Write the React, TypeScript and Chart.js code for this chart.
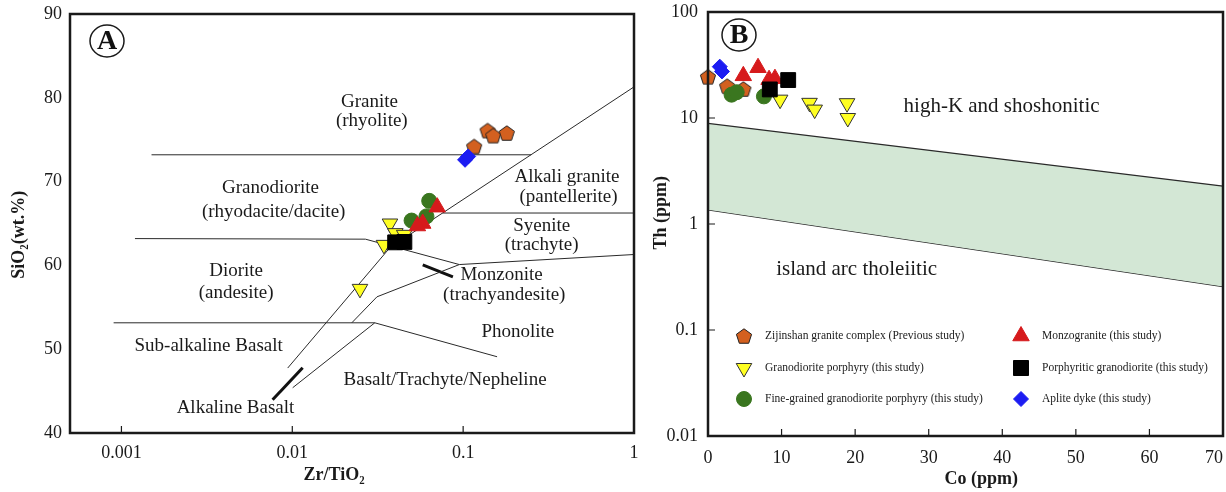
import React, { useEffect, useRef } from 'react';
import { Chart, registerables } from 'chart.js';

Chart.register(...registerables);

const SERIF = '"Liberation Serif", "Times New Roman", Times, serif';

// ---------------- Panel A : SiO2 vs Zr/TiO2 ----------------
const zrTiTicks = [0.001, 0.01, 0.1, 1];
const zrTiTickLabels = ['0.001', '0.01', '0.1', '1'];
const sio2Ticks = [40, 50, 60, 70, 80, 90];

const zijinshanZrTi = [0.139, 0.15, 0.18, 0.116];
const zijinshanSiO2 = [76.1, 75.5, 75.8, 74.2];
const granodioriteZrTi = [0.0373, 0.0401, 0.0452, 0.0344, 0.0249];
const granodioriteSiO2 = [65.0, 63.85, 63.65, 62.45, 57.2];
const fineGrainedZrTi = [0.0633, 0.061, 0.0499];
const fineGrainedSiO2 = [67.7, 65.85, 65.35];
const monzograniteZrTi = [0.0705, 0.058, 0.054];
const monzograniteSiO2 = [66.95, 65.0, 64.7];
const porphyriticZrTi = [0.04, 0.0453];
const porphyriticSiO2 = [62.75, 62.8];
const apliteZrTi = [0.1026, 0.107];
const apliteSiO2 = [72.6, 73.0];

// field boundaries of the Winchester & Floyd diagram: [Zr/TiO2, SiO2] vertices
const boundaryLinesA: number[][][] = [
  [[0.0015, 73.2], [0.25, 73.2]],
  [[0.0094, 47.75], [0.0372, 62.1], [1, 81.3]],
  [[0.0012, 63.2], [0.0268, 63.13], [0.095, 60.1]],
  [[0.095, 60.1], [1, 61.3]],
  [[0.0758, 66.25], [1, 66.25]],
  [[0.0223, 53.15], [0.0313, 56.25], [0.095, 60.1]],
  [[0.0009, 53.15], [0.0304, 53.15], [0.158, 49.1]],
  [[0.0304, 53.15], [0.01005, 45.4]],
];
const thickLinesA: number[][][] = [
  [[0.00767, 43.97], [0.0115, 47.79]],
  [[0.058, 60.07], [0.0871, 58.64]],
];

const fieldLabelsA = [
  { text: 'Granite', x: 0.0283, y: 79.5 },
  { text: '(rhyolite)', x: 0.0292, y: 77.25 },
  { text: 'Granodiorite', x: 0.00745, y: 69.2 },
  { text: '(rhyodacite/dacite)', x: 0.00778, y: 66.4 },
  { text: 'Alkali granite', x: 0.405, y: 70.6 },
  { text: '(pantellerite)', x: 0.414, y: 68.15 },
  { text: 'Syenite', x: 0.288, y: 64.65 },
  { text: '(trachyte)', x: 0.288, y: 62.4 },
  { text: 'Diorite', x: 0.00469, y: 59.3 },
  { text: '(andesite)', x: 0.00469, y: 56.7 },
  { text: 'Monzonite', x: 0.168, y: 58.9 },
  { text: '(trachyandesite)', x: 0.174, y: 56.5 },
  { text: 'Phonolite', x: 0.209, y: 52.1 },
  { text: 'Sub-alkaline Basalt', x: 0.00324, y: 50.35 },
  { text: 'Basalt/Trachyte/Nepheline', x: 0.0784, y: 46.3 },
  { text: 'Alkaline Basalt', x: 0.00465, y: 43.0 },
];

// ---------------- Panel B : Th vs Co ----------------
const coTicks = [0, 10, 20, 30, 40, 50, 60, 70];
const coTickLabels = ['0', '10', '20', '30', '40', '50', '60', '70    '];
const thTicks = [0.01, 0.1, 1, 10, 100];
const thTickLabels = ['0.01', '0.1', '1', '10', '100'];

const zijinshanCo = [0, 2.6, 4.8];
const zijinshanTh = [24.5, 20.0, 18.8];
const granodioriteCo = [9.8, 13.8, 14.5, 18.9, 19.0];
const granodioriteTh = [14.9, 13.9, 12.0, 13.8, 10.0];
const fineGrainedCo = [3.2, 3.9, 7.6];
const fineGrainedTh = [16.6, 17.5, 16.0];
const monzograniteCo = [4.8, 6.8, 8.3, 9.1];
const monzograniteTh = [25.0, 29.8, 23.0, 23.5];
const porphyriticCo = [8.4, 10.9];
const porphyriticTh = [18.6, 22.8];
const apliteCo = [1.6, 1.9];
const apliteTh = [30.5, 27.5];

const calcAlkalineCo = [0, 70];
const calcAlkalineUpperTh = [8.9, 2.28];
const calcAlkalineLowerTh = [1.36, 0.257];

const fieldLabelsB = [
  { text: 'high-K and shoshonitic', x: 39.9, y: 12.8 },
  { text: 'calc-alkaline', x: 28.6, y: 2.25 },
  { text: 'island arc tholeiitic', x: 20.2, y: 0.374 },
];

const legendLabels = [
  'Zijinshan granite complex (Previous study)',
  'Granodiorite porphyry (this study)',
  'Fine-grained granodiorite porphyry (this study)',
  'Monzogranite (this study)',
  'Porphyritic granodiorite (this study)',
  'Aplite dyke (this study)',
];

// ---------------- styles ----------------
const ORANGE = '#d3601f';
const YELLOW = '#ffff22';
const GREEN = '#3a761f';
const RED = '#d61a1c';
const BLACK = '#000000';
const BLUE = '#1c1cf2';

function makePentagon(r: number, fill: string, stroke: string) {
  const s = Math.ceil(2 * r + 4);
  const c = document.createElement('canvas');
  c.width = s;
  c.height = s;
  const g = c.getContext('2d')!;
  g.beginPath();
  for (let i = 0; i < 5; i++) {
    const a = -Math.PI / 2 + (i * 2 * Math.PI) / 5;
    const px = s / 2 + r * Math.cos(a);
    const py = s / 2 + r * Math.sin(a) + r * 0.1;
    if (i === 0) g.moveTo(px, py);
    else g.lineTo(px, py);
  }
  g.closePath();
  g.fillStyle = fill;
  g.fill();
  g.lineWidth = 1;
  g.strokeStyle = stroke;
  g.stroke();
  return c;
}

function pts(xs: number[], ys: number[]) {
  return xs.map((x, i) => ({ x, y: ys[i] }));
}

function markerDatasets(pent: HTMLCanvasElement, sets: { xs: number[]; ys: number[] }[]) {
  const [zij, gra, fine, mon, por, apl] = sets;
  return [
    { type: 'scatter', label: legendLabels[4], data: pts(por.xs, por.ys), pointStyle: 'rect', pointRadius: 10.5, backgroundColor: BLACK, borderColor: BLACK, borderWidth: 1, clip: false },
    { type: 'scatter', label: legendLabels[3], data: pts(mon.xs, mon.ys), pointStyle: 'triangle', pointRadius: 9.5, backgroundColor: RED, borderColor: RED, borderWidth: 1, clip: false },
    { type: 'scatter', label: legendLabels[2], data: pts(fine.xs, fine.ys), pointStyle: 'circle', pointRadius: 7.5, backgroundColor: GREEN, borderColor: GREEN, borderWidth: 1, clip: false },
    { type: 'scatter', label: legendLabels[1], data: pts(gra.xs, gra.ys), pointStyle: 'triangle', pointRotation: 180, pointRadius: 9, backgroundColor: YELLOW, borderColor: '#333', borderWidth: 1, clip: false },
    { type: 'scatter', label: legendLabels[5], data: pts(apl.xs, apl.ys), pointStyle: 'rectRot', pointRadius: 7.5, backgroundColor: BLUE, borderColor: BLUE, borderWidth: 1, clip: false },
    { type: 'scatter', label: legendLabels[0], data: pts(zij.xs, zij.ys), pointStyle: pent, pointRadius: 8, backgroundColor: ORANGE, borderColor: '#222', borderWidth: 1, clip: false },
  ];
}

function drawMarker(ctx: CanvasRenderingContext2D, kind: number, x: number, y: number, pent: HTMLCanvasElement) {
  ctx.save();
  ctx.lineWidth = 1;
  ctx.beginPath();
  if (kind === 0) {
    ctx.drawImage(pent, x - pent.width / 2, y - pent.height / 2);
    ctx.restore();
    return;
  }
  if (kind === 1) {
    const r = 9;
    ctx.moveTo(x, y + r);
    ctx.lineTo(x - r * 0.866, y - r / 2);
    ctx.lineTo(x + r * 0.866, y - r / 2);
    ctx.closePath();
    ctx.fillStyle = YELLOW;
    ctx.strokeStyle = '#333';
  } else if (kind === 2) {
    ctx.arc(x, y, 7.5, 0, Math.PI * 2);
    ctx.fillStyle = GREEN;
    ctx.strokeStyle = GREEN;
  } else if (kind === 3) {
    const r = 9.5;
    ctx.moveTo(x, y - r);
    ctx.lineTo(x - r * 0.866, y + r / 2);
    ctx.lineTo(x + r * 0.866, y + r / 2);
    ctx.closePath();
    ctx.fillStyle = RED;
    ctx.strokeStyle = RED;
  } else if (kind === 4) {
    ctx.rect(x - 7.5, y - 7.5, 15, 15);
    ctx.fillStyle = BLACK;
    ctx.strokeStyle = BLACK;
  } else {
    const r = 7.5;
    ctx.moveTo(x, y - r);
    ctx.lineTo(x + r, y);
    ctx.lineTo(x, y + r);
    ctx.lineTo(x - r, y);
    ctx.closePath();
    ctx.fillStyle = BLUE;
    ctx.strokeStyle = BLUE;
  }
  ctx.fill();
  ctx.stroke();
  ctx.restore();
}

function drawFrameAndLetter(chart: any, letter: string, dx: number, dy: number) {
  const { ctx, chartArea: a } = chart;
  ctx.save();
  ctx.strokeStyle = '#1a1a1a';
  ctx.lineWidth = 2.5;
  ctx.strokeRect(a.left, a.top, a.right - a.left, a.bottom - a.top);
  const cx = a.left + dx;
  const cy = a.top + dy;
  ctx.lineWidth = 1.5;
  ctx.beginPath();
  ctx.ellipse(cx, cy, 17, 16, 0, 0, Math.PI * 2);
  ctx.stroke();
  ctx.fillStyle = '#111';
  ctx.font = `bold 28px ${SERIF}`;
  ctx.textAlign = 'center';
  ctx.textBaseline = 'middle';
  ctx.fillText(letter, cx, cy + 1);
  ctx.restore();
}

function drawInnerTicks(chart: any, xs: number[], ys: number[], len: number) {
  const { ctx, chartArea: a, scales } = chart;
  ctx.save();
  ctx.strokeStyle = '#1a1a1a';
  ctx.lineWidth = 1.2;
  ctx.beginPath();
  xs.forEach((v) => {
    const px = scales.x.getPixelForValue(v);
    ctx.moveTo(px, a.bottom);
    ctx.lineTo(px, a.bottom - len);
  });
  ys.forEach((v) => {
    const py = scales.y.getPixelForValue(v);
    ctx.moveTo(a.left, py);
    ctx.lineTo(a.left + len, py);
  });
  ctx.stroke();
  ctx.restore();
}

function drawFieldLabels(chart: any, labels: { text: string; x: number; y: number }[], font: string) {
  const { ctx, scales } = chart;
  ctx.save();
  ctx.fillStyle = '#1a1a1a';
  ctx.font = font;
  ctx.textAlign = 'center';
  ctx.textBaseline = 'middle';
  labels.forEach((l) => ctx.fillText(l.text, scales.x.getPixelForValue(l.x), scales.y.getPixelForValue(l.y)));
  ctx.restore();
}

function fixAxis(size: number, horizontal: boolean) {
  return (s: any) => {
    if (horizontal) s.height = size;
    else s.width = size;
    s.paddingLeft = 0;
    s.paddingRight = 0;
    s.paddingTop = 0;
    s.paddingBottom = 0;
  };
}

function labelFor(ticks: number[], labels: string[]) {
  return (v: number) => {
    const i = ticks.findIndex((t) => (t === 0 ? Math.abs(v) < 1e-9 : Math.abs(t - v) / t < 1e-6));
    return i >= 0 ? labels[i] : '';
  };
}

const tickFont = { family: SERIF, size: 18 };
const titleFont = { family: SERIF, size: 18, weight: 'bold' as const };

function configA(pent: HTMLCanvasElement): any {
  const lineDs = boundaryLinesA.map((seg) => ({
    type: 'line',
    data: seg.map(([x, y]) => ({ x, y })),
    borderColor: '#2a2a2a',
    borderWidth: 1,
    pointRadius: 0,
    fill: false,
    showLine: true,
  }));
  const thickDs = thickLinesA.map((seg) => ({
    type: 'line',
    data: seg.map(([x, y]) => ({ x, y })),
    borderColor: '#111',
    borderWidth: 3,
    pointRadius: 0,
    fill: false,
    showLine: true,
  }));
  return {
    type: 'scatter',
    data: {
      datasets: [
        ...markerDatasets(pent, [
          { xs: zijinshanZrTi, ys: zijinshanSiO2 },
          { xs: granodioriteZrTi, ys: granodioriteSiO2 },
          { xs: fineGrainedZrTi, ys: fineGrainedSiO2 },
          { xs: monzograniteZrTi, ys: monzograniteSiO2 },
          { xs: porphyriticZrTi, ys: porphyriticSiO2 },
          { xs: apliteZrTi, ys: apliteSiO2 },
        ]),
        ...lineDs,
        ...thickDs,
      ],
    },
    options: {
      animation: false,
      responsive: false,
      layout: { autoPadding: false, padding: { left: 0, top: 14, right: 6, bottom: 0 } },
      plugins: { legend: { display: false }, tooltip: { enabled: false } },
      scales: {
        x: {
          type: 'logarithmic',
          min: 0.0005,
          max: 1,
          grid: { display: false, drawTicks: false },
          border: { display: false },
          afterBuildTicks: (s: any) => {
            s.ticks = zrTiTicks.map((v) => ({ value: v }));
          },
          afterFit: fixAxis(59, true),
          ticks: {
            autoSkip: false,
            maxRotation: 0,
            padding: 9,
            color: '#1a1a1a',
            font: tickFont,
            callback: labelFor(zrTiTicks, zrTiTickLabels),
          },
          title: { display: true, text: 'Zr/TiO\u2082        ', color: '#1a1a1a', font: titleFont, padding: { top: 0, bottom: 6 } },
        },
        y: {
          type: 'linear',
          min: 40,
          max: 90,
          grid: { display: false, drawTicks: false },
          border: { display: false },
          afterBuildTicks: (s: any) => {
            s.ticks = sio2Ticks.map((v) => ({ value: v }));
          },
          afterFit: fixAxis(70, false),
          ticks: { padding: 8, color: '#1a1a1a', font: tickFont },
          title: { display: true, text: 'SiO\u2082(wt.%)     ', color: '#1a1a1a', font: titleFont, padding: { top: 9, bottom: 0 } },
        },
      },
    },
    plugins: [
      {
        id: 'panelA',
        beforeDatasetsDraw(chart: any) {
          drawFieldLabels(chart, fieldLabelsA, `19px ${SERIF}`);
        },
        afterDraw(chart: any) {
          drawInnerTicks(chart, [0.001, 0.01, 0.1], [], 7);
          drawFrameAndLetter(chart, 'A', 37, 27);
        },
      },
    ],
  };
}

function configB(pent: HTMLCanvasElement): any {
  return {
    type: 'scatter',
    data: {
      datasets: [
        ...markerDatasets(pent, [
          { xs: zijinshanCo, ys: zijinshanTh },
          { xs: granodioriteCo, ys: granodioriteTh },
          { xs: fineGrainedCo, ys: fineGrainedTh },
          { xs: monzograniteCo, ys: monzograniteTh },
          { xs: porphyriticCo, ys: porphyriticTh },
          { xs: apliteCo, ys: apliteTh },
        ]),
        {
          type: 'line',
          data: pts(calcAlkalineCo, calcAlkalineUpperTh),
          borderColor: '#2a2a2a',
          borderWidth: 1.2,
          pointRadius: 0,
          showLine: true,
          fill: '+1',
          backgroundColor: '#d3e7d5',
        },
        {
          type: 'line',
          data: pts(calcAlkalineCo, calcAlkalineLowerTh),
          borderColor: '#2a2a2a',
          borderWidth: 1.2,
          pointRadius: 0,
          showLine: true,
          fill: false,
        },
      ],
    },
    options: {
      animation: false,
      responsive: false,
      layout: { autoPadding: false, padding: { left: 0, top: 12, right: 3, bottom: 0 } },
      plugins: { legend: { display: false }, tooltip: { enabled: false } },
      scales: {
        x: {
          type: 'linear',
          min: 0,
          max: 70,
          grid: { display: false, drawTicks: false },
          border: { display: false },
          afterBuildTicks: (s: any) => {
            s.ticks = coTicks.map((v) => ({ value: v }));
          },
          afterFit: fixAxis(56, true),
          ticks: {
            autoSkip: false,
            maxRotation: 0,
            padding: 11,
            color: '#1a1a1a',
            font: tickFont,
            callback: labelFor(coTicks, coTickLabels),
          },
          title: { display: true, text: '       Co (ppm)', color: '#1a1a1a', font: titleFont, padding: { top: 0, bottom: 2 } },
        },
        y: {
          type: 'logarithmic',
          min: 0.01,
          max: 100,
          grid: { display: false, drawTicks: false },
          border: { display: false },
          afterBuildTicks: (s: any) => {
            s.ticks = thTicks.map((v) => ({ value: v }));
          },
          afterFit: fixAxis(68, false),
          ticks: {
            padding: 10,
            color: '#1a1a1a',
            font: tickFont,
            callback: labelFor(thTicks, thTickLabels),
          },
          title: { display: true, text: '     Th (ppm)', color: '#1a1a1a', font: titleFont, padding: { top: 11, bottom: 0 } },
        },
      },
    },
    plugins: [
      {
        id: 'panelB',
        beforeDatasetsDraw(chart: any) {
          drawFieldLabels(chart, fieldLabelsB, `21px ${SERIF}`);
        },
        afterDraw(chart: any) {
          const { ctx, chartArea: a } = chart;
          drawInnerTicks(chart, [10, 20, 30, 40, 50, 60], [0.1, 1, 10], 7);
          drawFrameAndLetter(chart, 'B', 31, 23);
          // legend
          const cols = [
            { mx: a.left + 36, tx: a.left + 57, kinds: [0, 1, 2] },
            { mx: a.left + 313, tx: a.left + 334, kinds: [3, 4, 5] },
          ];
          const rows = [a.top + 324, a.top + 356, a.top + 387];
          ctx.save();
          ctx.font = `11.5px ${SERIF}`;
          ctx.fillStyle = '#1a1a1a';
          ctx.textBaseline = 'middle';
          ctx.textAlign = 'left';
          cols.forEach((c) => {
            c.kinds.forEach((k, i) => {
              drawMarker(ctx, k, c.mx, rows[i], pent);
              ctx.fillText(legendLabels[k], c.tx, rows[i]);
            });
          });
          ctx.restore();
        },
      },
    ],
  };
}

function Panel({ left, width, make }: { left: number; width: number; make: (p: HTMLCanvasElement) => any }) {
  const ref = useRef<HTMLCanvasElement>(null);
  useEffect(() => {
    const pent = makePentagon(8, ORANGE, '#222');
    const chart = new Chart(ref.current!, make(pent));
    return () => chart.destroy();
  }, []);
  return (
    <canvas
      ref={ref}
      width={width}
      height={492}
      style={{ position: 'absolute', left, top: 0, width, height: 492 }}
    />
  );
}

export default function App() {
  return (
    <div style={{ position: 'fixed', left: 0, top: 0, width: 1226, height: 492, background: '#fff', overflow: 'hidden' }}>
      <Panel left={0} width={640} make={configA} />
      <Panel left={640} width={586} make={configB} />
    </div>
  );
}
